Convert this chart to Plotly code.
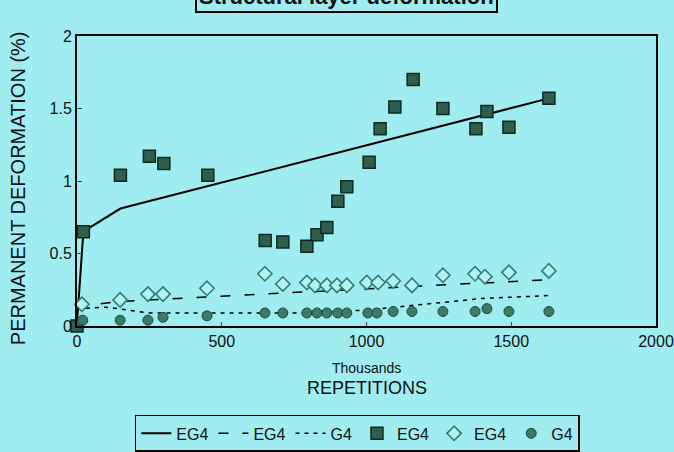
import plotly.graph_objects as go

# ---- data (thousands of repetitions, permanent deformation %) ----
sq_x = [0, 22, 150, 250, 300, 452, 650, 711, 794, 829, 863, 901, 932,
        1009, 1047, 1098, 1161, 1264, 1378, 1416, 1492, 1630]
sq_y = [0.0, 0.65, 1.04, 1.17, 1.12, 1.04, 0.59, 0.58, 0.55, 0.63, 0.68, 0.86, 0.96,
        1.13, 1.36, 1.51, 1.70, 1.50, 1.36, 1.48, 1.37, 1.57]

dia_x = [17, 149, 245, 297, 449, 649, 711, 794, 822, 863, 898, 932,
         1001, 1040, 1092, 1157, 1264, 1375, 1409, 1492, 1630]
dia_y = [0.15, 0.18, 0.22, 0.22, 0.26, 0.36, 0.29, 0.30, 0.28, 0.28, 0.28, 0.28,
         0.30, 0.30, 0.31, 0.28, 0.35, 0.36, 0.34, 0.37, 0.38]

cir_x = [20, 149, 245, 297, 449, 649, 711, 794, 829, 863, 901, 932,
         1005, 1036, 1092, 1157, 1264, 1375, 1416, 1492, 1630]
cir_y = [0.04, 0.04, 0.04, 0.06, 0.07, 0.09, 0.09, 0.09, 0.09, 0.09, 0.09, 0.09,
         0.09, 0.09, 0.10, 0.10, 0.10, 0.10, 0.12, 0.10, 0.10]

fit1_x = [0, 22, 45, 150, 1630]
fit1_y = [0.02, 0.65, 0.68, 0.81, 1.57]

fit2_x = [0, 25, 150, 450, 650, 900, 1100, 1300, 1630]
fit2_y = [0.13, 0.14, 0.17, 0.20, 0.22, 0.25, 0.27, 0.29, 0.32]

fit3_x = [0, 100, 250, 800, 1000, 1200, 1400, 1630]
fit3_y = [0.12, 0.13, 0.09, 0.09, 0.11, 0.15, 0.19, 0.21]

x_ticks = [0, 500, 1000, 1500, 2000]
y_ticks = [0, 0.5, 1, 1.5, 2]
y_tick_text = ["0", "0.5", "1", "1.5", "2"]

BG = "#9FEDF0"
FONT = "Liberation Sans, Arial, sans-serif"

fig = go.Figure()
fig.add_trace(go.Scatter(x=fit1_x, y=fit1_y, mode="lines", name="EG4",
                         line=dict(color="black", width=2), cliponaxis=False))
fig.add_trace(go.Scatter(x=fit2_x, y=fit2_y, mode="lines", name="EG4",
                         line=dict(color="black", width=1.5, dash="10px,14px"), cliponaxis=False))
fig.add_trace(go.Scatter(x=fit3_x, y=fit3_y, mode="lines", name="G4",
                         line=dict(color="black", width=1.5, dash="4px,5px"), cliponaxis=False))
fig.add_trace(go.Scatter(x=sq_x, y=sq_y, mode="markers", name="EG4",
                         marker=dict(symbol="square", size=12, color="#2F5E4C",
                                     line=dict(color="#0E2A20", width=1.5)),
                         cliponaxis=False))
fig.add_trace(go.Scatter(x=dia_x, y=dia_y, mode="markers", name="EG4",
                         marker=dict(symbol="diamond", size=11, color="#B4F1F1",
                                     line=dict(color="#2C7F7A", width=1.6)),
                         cliponaxis=False))
fig.add_trace(go.Scatter(x=cir_x, y=cir_y, mode="markers", name="G4",
                         marker=dict(symbol="circle", size=10, color="#3C7A66",
                                     line=dict(color="#1C4A3C", width=1)),
                         cliponaxis=False))

fig.update_layout(
    width=674, height=452,
    paper_bgcolor=BG, plot_bgcolor=BG,
    margin=dict(l=77, r=18, t=36, b=126, autoexpand=False),
    font=dict(family=FONT, size=16, color="#111111"),
    showlegend=True,
    legend=dict(orientation="h", xref="container", yref="container",
                x=0.2, y=0.082, xanchor="left", yanchor="top",
                bgcolor=BG, bordercolor="black", borderwidth=1.5,
                font=dict(size=16), itemwidth=30, tracegroupgap=0),
    xaxis=dict(range=[0, 2000], tickvals=x_ticks, ticks="inside", ticklen=4,
               showgrid=False, zeroline=False, showline=True, linecolor="black",
               linewidth=2, mirror=True, tickfont=dict(size=16), automargin=False),
    yaxis=dict(range=[0, 2], tickvals=y_ticks, ticktext=y_tick_text, ticks="inside",
               ticklen=5, showgrid=False, zeroline=False, showline=True,
               linecolor="black", linewidth=2, mirror=True, tickfont=dict(size=16),
               automargin=False),
)

# axis titles
fig.add_annotation(text="Thousands", xref="paper", yref="paper", x=0.5, y=-0.145,
                   xanchor="center", yanchor="middle", showarrow=False,
                   font=dict(size=14, family=FONT, color="#111111"))
fig.add_annotation(text="REPETITIONS", xref="paper", yref="paper", x=0.5, y=-0.215,
                   xanchor="center", yanchor="middle", showarrow=False,
                   font=dict(size=18, family=FONT, color="#111111"))
fig.add_annotation(text="PERMANENT DEFORMATION (%)", xref="paper", yref="paper",
                   x=-0.102, y=0.475, xanchor="center", yanchor="middle", textangle=-90,
                   showarrow=False, font=dict(size=20, family=FONT, color="#111111"))

# boxed chart title (cut at the top edge, as in the reference)
fig.add_annotation(text="<b>Structural layer deformation</b>", xref="paper", yref="paper",
                   x=0.465, y=1.079, xanchor="center", yanchor="bottom", showarrow=False,
                   font=dict(size=22, family=FONT, color="#111111"),
                   bordercolor="black", borderwidth=2, borderpad=2, bgcolor=BG)

fig.write_html("out.html",
               config={"displayModeBar": False},
               post_script="document.body.style.margin='0';"
                           "document.body.style.background='" + BG + "';")
